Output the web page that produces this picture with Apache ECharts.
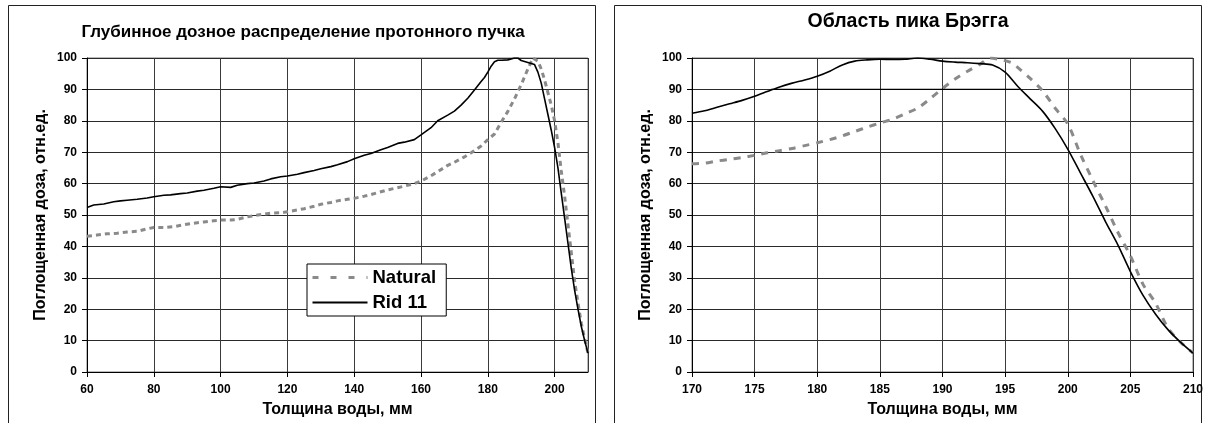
<!DOCTYPE html>
<html>
<head>
<meta charset="utf-8">
<script src="https://cdn.jsdelivr.net/npm/echarts@6/dist/echarts.min.js"></script>
<style>
html,body{margin:0;padding:0;background:#fff;}
#c{width:1211px;height:423px;}
</style>
</head>
<body>
<div id="c"></div>
<script>
// ---- Data ----
var depthFullNatural = [60,63,66,69,72,75,78,80,83,86,89,92,95,98,100,103,105,108,110,113,115,118,120,123,125,128,130,133,135,138,140,143,145,148,150,153,155,158,160,163,165,168,170,173,175,178,180,182,184,186,188,190,192,193.5,195,196,197,198,199,200,201,202,203,204,205,206,207,208,209,210];
var naturalFull =      [43.2,43.6,44.0,44.2,44.6,44.8,45.6,46.0,46.0,46.3,46.9,47.4,47.8,48.2,48.4,48.4,48.6,49.4,49.8,50.3,50.6,50.7,51.0,51.6,52.0,52.8,53.4,54.0,54.5,55.0,55.3,56.0,56.5,57.4,58.0,58.7,59.2,60.0,60.8,62.5,63.8,65.8,66.8,68.5,69.8,72,74,75.8,79.5,83,87,91.5,96.5,100,99,96.5,93,89,85,80,73,64,56,47,38,29,22,15.5,10.5,6];

var depthFullRid = [60,62,65,68,70,72,75,78,80,83,85,88,90,93,95,98,100,103,105,108,110,113,115,118,120,123,125,128,130,133,135,138,140,143,145,148,150,153,155,158,160,163,165,168,170,172,174,176,178,179,180,181,182,183,184,186,188,189,190,192,194,195,196,197,198,199,200,201,202,203,204,205,206,207,208,209,210];
var ridFull =      [52.4,53.2,53.5,54.2,54.5,54.7,55.0,55.4,55.8,56.3,56.4,56.8,57.0,57.6,57.9,58.5,59.0,58.8,59.5,60.0,60.2,60.8,61.5,62.2,62.4,63.0,63.5,64.2,64.7,65.4,66.0,67.0,67.9,69.0,69.6,70.8,71.5,72.8,73.2,74.0,75.5,77.8,80.0,81.8,83.1,85.0,87.2,89.8,92.5,93.8,95.5,97.4,98.8,99.3,99.3,99.4,100,100,99.2,98.6,97.9,95.5,92,87,82,77,71.5,65,57,49,41,33,26,20,14.5,10,6];

var depthBragg = [170,171,172,173,174,175,176,177,178,179,180,181,182,183,184,185,186,187,188,189,190,191,192,193,194,195,196,197,198,199,200,201,202,203,204,205,206,207,208,209,210];
var ridBragg =   [82.4,83.2,84.3,85.4,86.5,87.8,89.3,90.8,92,93,94.2,95.8,97.8,99,99.4,99.6,99.5,99.6,100,99.6,99,98.7,98.5,98.2,97.8,95.5,91,87,83,77.5,71,63.5,56,48,40.5,32,24.5,18.5,13.5,9.5,6];

var depthBraggNatural = [170,171,172,173,174,175,176,177,178,179,180,181,182,183,184,185,186,187,188,189,190,191,192,193,193.8,194.5,195.5,196,197,198,199,200,201,202,203,204,205,206,207,208,209,210];
var naturalBragg =      [66.3,66.5,67.2,67.7,68.3,69,69.8,70.5,71.2,72.1,73,74,75.2,76.6,78,79.3,80.5,82.2,84,87,90.3,93.3,95.8,98,100,99.6,98.5,97,93.5,89.5,84,79,69.5,61,53,44.5,37,28,22,14,9.5,6];

var width90X = [176.3, 196.1];
var width90Y = [90, 90];

var leftXTicks = {min:60, max:210, interval:20};
var rightXTicks = {min:170, max:210, interval:5};
var yTicks = {min:0, max:100, interval:10};

var titles = ['Глубинное дозное распределение протонного пучка', 'Область пика Брэгга'];
var xName = 'Толщина воды, мм';
var yName = 'Поглощенная доза, отн.ед.';
var seriesNames = ['Natural', 'Rid 11'];

function zip(xs, ys){ return xs.map(function(x,i){ return [x, ys[i]]; }); }

var FONT = 'Liberation Sans, Arial, sans-serif';
var chart = echarts.init(document.getElementById('c'), null, {renderer:'canvas'});

function xAxisOpt(grid, t, hideMax){
  return {
    type:'value', gridIndex:grid, min:t.min, max:t.max, interval:t.interval,
    name:xName, nameLocation:'middle', nameGap:30,
    nameTextStyle:{fontFamily:FONT, fontWeight:'bold', fontSize:16, color:'#000'},
    axisLine:{show:true, onZero:false, lineStyle:{color:'#000', width:1}},
    axisTick:{show:true, inside:false, length:5, lineStyle:{color:'#000'}},
    axisLabel:{show:true, margin:12, fontFamily:FONT, fontWeight:'bold', fontSize:12, color:'#000', showMaxLabel: !hideMax},
    splitLine:{show:true, lineStyle:{color:'#3a3a3a', width:1}}
  };
}
function yAxisOpt(grid){
  return {
    type:'value', gridIndex:grid, min:yTicks.min, max:yTicks.max, interval:yTicks.interval,
    name:yName, nameLocation:'middle', nameGap:38, nameRotate:90,
    nameTextStyle:{fontFamily:FONT, fontWeight:'bold', fontSize:16, color:'#000'},
    axisLine:{show:true, lineStyle:{color:'#000', width:1}},
    axisTick:{show:true, inside:false, length:5, lineStyle:{color:'#000'}},
    axisLabel:{show:true, margin:10, fontFamily:FONT, fontWeight:'bold', fontSize:12, color:'#000'},
    splitLine:{show:true, lineStyle:{color:'#2a2a2a', width:1}}
  };
}

var option = {
  backgroundColor:'#fff',
  animation:false,
  graphic:[
    {type:'rect', shape:{x:8.5, y:5.5, width:587, height:440}, style:{fill:'none', stroke:'#222', lineWidth:1}, z:-1},
    {type:'rect', shape:{x:614.5, y:5.5, width:587, height:440}, style:{fill:'none', stroke:'#222', lineWidth:1}, z:-1},
    {type:'text', x:303, y:32, style:{text:titles[0], font:'bold 17px '+FONT, fill:'#000', textAlign:'center', textVerticalAlign:'middle'}},
    {type:'text', x:908, y:22, style:{text:titles[1], font:'bold 19.5px '+FONT, fill:'#000', textAlign:'center', textVerticalAlign:'middle'}}
  ],
  grid:[
    {left:87, top:58, width:501, height:317, show:true, borderColor:'#777', borderWidth:1, backgroundColor:'#fff'},
    {left:692, top:58, width:501, height:317, show:true, borderColor:'#777', borderWidth:1, backgroundColor:'#fff'}
  ],
  xAxis:[ xAxisOpt(0, leftXTicks, true), xAxisOpt(1, rightXTicks, false) ],
  yAxis:[ yAxisOpt(0), yAxisOpt(1) ],
  legend:{
    show:true, orient:'vertical', left:307, top:264,
    data:[
      {name:seriesNames[0], lineStyle:{type:[6,12], width:3, color:'#8a8a8a'}},
      {name:seriesNames[1]}
    ],
    backgroundColor:'#fff', borderColor:'#000', borderWidth:1,
    padding:[4,10,4,4], itemGap:6, itemWidth:55, itemHeight:14,
    itemStyle:{opacity:0},
    textStyle:{fontFamily:FONT, fontWeight:'bold', fontSize:18.5, color:'#000'}
  },
  series:[
    {name:seriesNames[0], type:'line', xAxisIndex:0, yAxisIndex:0, symbol:'none', data:zip(depthFullNatural, naturalFull),
     lineStyle:{color:'#8a8a8a', width:3, type:[5,4]}, itemStyle:{color:'#8a8a8a'}, z:3},
    {name:seriesNames[1], type:'line', xAxisIndex:0, yAxisIndex:0, symbol:'none', data:zip(depthFullRid, ridFull),
     lineStyle:{color:'#000', width:1.6}, itemStyle:{color:'#000'}, z:4},
    {name:'Natural ', type:'line', xAxisIndex:1, yAxisIndex:1, symbol:'none', smooth:0.3, data:zip(depthBraggNatural, naturalBragg),
     lineStyle:{color:'#8a8a8a', width:3, type:[7,7]}, itemStyle:{color:'#8a8a8a'}, z:3},
    {name:'Rid 11 ', type:'line', xAxisIndex:1, yAxisIndex:1, symbol:'none', smooth:0.3, data:zip(depthBragg, ridBragg),
     lineStyle:{color:'#000', width:1.6}, itemStyle:{color:'#000'}, z:4},
    {name:'90%', type:'line', xAxisIndex:1, yAxisIndex:1, symbol:'none', data:zip(width90X, width90Y),
     lineStyle:{color:'#000', width:1.4}, z:4}
  ]
};
chart.setOption(option);
</script>
</body>
</html>
